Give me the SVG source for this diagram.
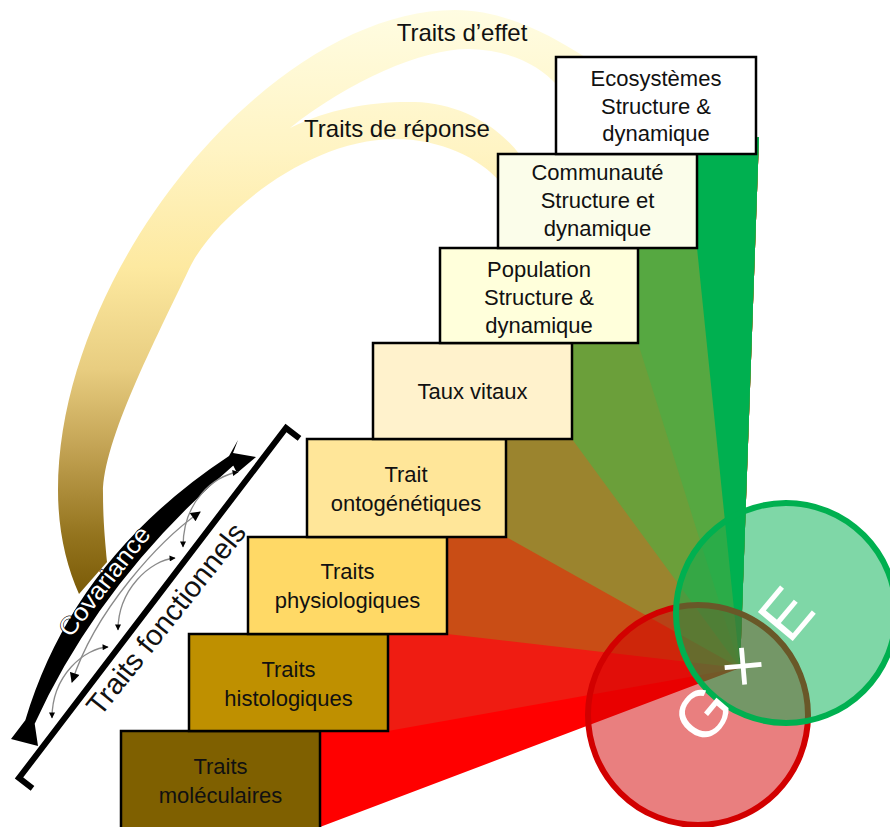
<svg xmlns="http://www.w3.org/2000/svg" width="890" height="827" viewBox="0 0 890 827">
<defs>
<style>
.box{stroke:#000;stroke-width:2.5}
.lbl{font-family:"Liberation Sans",Arial,sans-serif;font-size:22px;fill:#111;text-anchor:middle}
.top{font-family:"Liberation Sans",Arial,sans-serif;font-size:24px;fill:#111;text-anchor:middle}
.gxe{font-family:"Liberation Sans",Arial,sans-serif;font-size:66px;fill:#fff;text-anchor:middle}
.thin{fill:none;stroke:#8a8a8a;stroke-width:1.3;marker-start:url(#ah);marker-end:url(#ah)}
</style>
<linearGradient id="gold" gradientUnits="userSpaceOnUse" x1="0" y1="0" x2="0" y2="595">
<stop offset="0" stop-color="#fffde4"/>
<stop offset="0.25" stop-color="#fff4c4"/>
<stop offset="0.45" stop-color="#fde9a0"/>
<stop offset="0.62" stop-color="#e8cd80"/>
<stop offset="0.75" stop-color="#c4a455"/>
<stop offset="0.9" stop-color="#94741e"/>
<stop offset="1" stop-color="#7a5a06"/>
</linearGradient>
<marker id="ah" viewBox="0 0 10 10" refX="9" refY="5" markerWidth="7" markerHeight="6" markerUnits="userSpaceOnUse" orient="auto-start-reverse"><path d="M0,0 L10,5 L0,10 z" fill="#000"/></marker>
<marker id="ah2" viewBox="0 0 10 10" refX="9" refY="5" markerWidth="11" markerHeight="10" markerUnits="userSpaceOnUse" orient="auto-start-reverse"><path d="M0,0 L10,5 L0,10 z" fill="#000"/></marker>
</defs>
<rect width="890" height="827" fill="#fff"/>

<g id="trait-bands">
<path fill="url(#gold)" d="M79,594 C66,565 58,530 58,490 C58,269 272,10 455,10 C505,10 550,35 585,57 L556,84 C540,66 510,50 470,49 C425,48 350,80 290,128 C330,108 375,101 415,102 C455,103 495,122 520,155 L500,182 C480,158 440,139 395,139 C305,139 212.5,219 189,269 C156,339 103,440 103,493 C103,520 105,540 107,562 Z"/>
<text class="top" x="462" y="41">Traits d’effet</text>
<text class="top" x="397" y="137">Traits de réponse</text>
</g>

<g id="fan">
<polygon fill="#ff0000" points="320,827 320,731 388,731 388,634 447,634 447,537 506,537 506,439 572,439 572,343 638,343 638,248 697,248 697,154 759,137 740,668"/>
<polygon fill="#ef1c12" points="388,731 388,634 447,634 447,537 506,537 506,439 572,439 572,343 638,343 638,248 697,248 697,154 759,137 740,668"/>
<polygon fill="#c94d15" points="447,634 447,537 506,537 506,439 572,439 572,343 638,343 638,248 697,248 697,154 759,137 740,668"/>
<polygon fill="#9b842e" points="506,537 506,439 572,439 572,343 638,343 638,248 697,248 697,154 759,137 740,668"/>
<polygon fill="#6b9f3a" points="572,439 572,343 638,343 638,248 697,248 697,154 759,137 740,668"/>
<polygon fill="#56a841" points="638,343 638,248 697,248 697,154 759,137 740,668"/>
<polygon fill="#00b050" points="697,248 697,154 759,137 740,668"/>
</g>

<g id="circle-G">
<circle cx="698" cy="715" r="110" fill="#d40000" fill-opacity="0.5" stroke="#d20000" stroke-width="6"/>
</g>
<g id="circle-E">
<circle cx="786" cy="613" r="110" fill="#00b050" fill-opacity="0.5" stroke="#00b050" stroke-width="6"/>
</g>
<g id="gxe-label">
<g transform="translate(702,713) rotate(-50)"><text class="gxe" x="0" y="24">G</text></g>
<g transform="translate(743,666) rotate(-50)"><text class="gxe" x="0" y="22">×</text></g>
<g transform="translate(785,613) rotate(-50)"><text class="gxe" x="0" y="24">E</text></g>
</g>

<g id="box-moleculaires">
<rect class="box" x="121" y="731" width="199" height="100" fill="#7f6000"/>
<text class="lbl" x="220.5" y="774">Traits</text>
<text class="lbl" x="220.5" y="803">moléculaires</text>
</g>
<g id="box-histologiques">
<rect class="box" x="189" y="634" width="199" height="97" fill="#bf9000"/>
<text class="lbl" x="288.5" y="677">Traits</text>
<text class="lbl" x="288.5" y="706">histologiques</text>
</g>
<g id="box-physiologiques">
<rect class="box" x="248" y="537" width="199" height="97" fill="#ffd966"/>
<text class="lbl" x="347.5" y="579">Traits</text>
<text class="lbl" x="347.5" y="608">physiologiques</text>
</g>
<g id="box-ontogenetiques">
<rect class="box" x="307" y="439" width="199" height="98" fill="#ffe699"/>
<text class="lbl" x="406" y="482">Trait</text>
<text class="lbl" x="406" y="511">ontogénétiques</text>
</g>
<g id="box-taux">
<rect class="box" x="373" y="343" width="199" height="96" fill="#fff2cc"/>
<text class="lbl" x="472.5" y="399">Taux vitaux</text>
</g>
<g id="box-population">
<rect class="box" x="440" y="248" width="198" height="95" fill="#ffffdb"/>
<text class="lbl" x="539" y="277">Population</text>
<text class="lbl" x="539" y="305">Structure &amp;</text>
<text class="lbl" x="539" y="333">dynamique</text>
</g>
<g id="box-communaute">
<rect class="box" x="498" y="154" width="199" height="94" fill="#fbfdea"/>
<text class="lbl" x="597.5" y="180">Communauté</text>
<text class="lbl" x="597.5" y="208">Structure et</text>
<text class="lbl" x="597.5" y="236">dynamique</text>
</g>
<g id="box-ecosystemes">
<rect class="box" x="556" y="57" width="200" height="97" fill="#ffffff"/>
<text class="lbl" x="656" y="86">Ecosystèmes</text>
<text class="lbl" x="656" y="114">Structure &amp;</text>
<text class="lbl" x="656" y="141">dynamique</text>
</g>

<g id="bracket-fonctionnels">
<polyline points="32.5,788.3 19,778 286,428 299.5,438.3" fill="none" stroke="#000" stroke-width="6" stroke-linejoin="miter"/>
<g transform="translate(166,619) rotate(-51.5)"><text x="0" y="10" font-family="'Liberation Sans',Arial,sans-serif" font-size="29" fill="#111" text-anchor="middle" textLength="236" lengthAdjust="spacingAndGlyphs">Traits fonctionnels</text></g>
</g>

<g id="covariance">
<path fill="#000" d="M25.3,720.3 Q73.5,558.6 229,456 L238,440 L233,453 L256,457 L237,473 L232,463 L235,464 Q100.5,579.4 34.7,723.7 L38,746 L11,739 Z"/>
<g transform="translate(104,581) rotate(-52)"><text x="0" y="9" font-family="'Liberation Sans',Arial,sans-serif" font-size="25" fill="#fff" stroke="#000" stroke-width="1.2" paint-order="stroke" text-anchor="middle" textLength="132" lengthAdjust="spacingAndGlyphs">Covariance</text></g>
</g>

<g id="connectors">
<path class="thin" d="M238,472 C215,476 183,500 183,547"/>
<path class="thin" style="marker-start:url(#ah2);marker-end:url(#ah2)" d="M200,512 C160,540 95,610 72,682"/>
<path class="thin" d="M175,558 C150,560 118,590 118,630"/>
<path class="thin" d="M108,647 C85,648 52,675 52,718"/>
</g>
</svg>
